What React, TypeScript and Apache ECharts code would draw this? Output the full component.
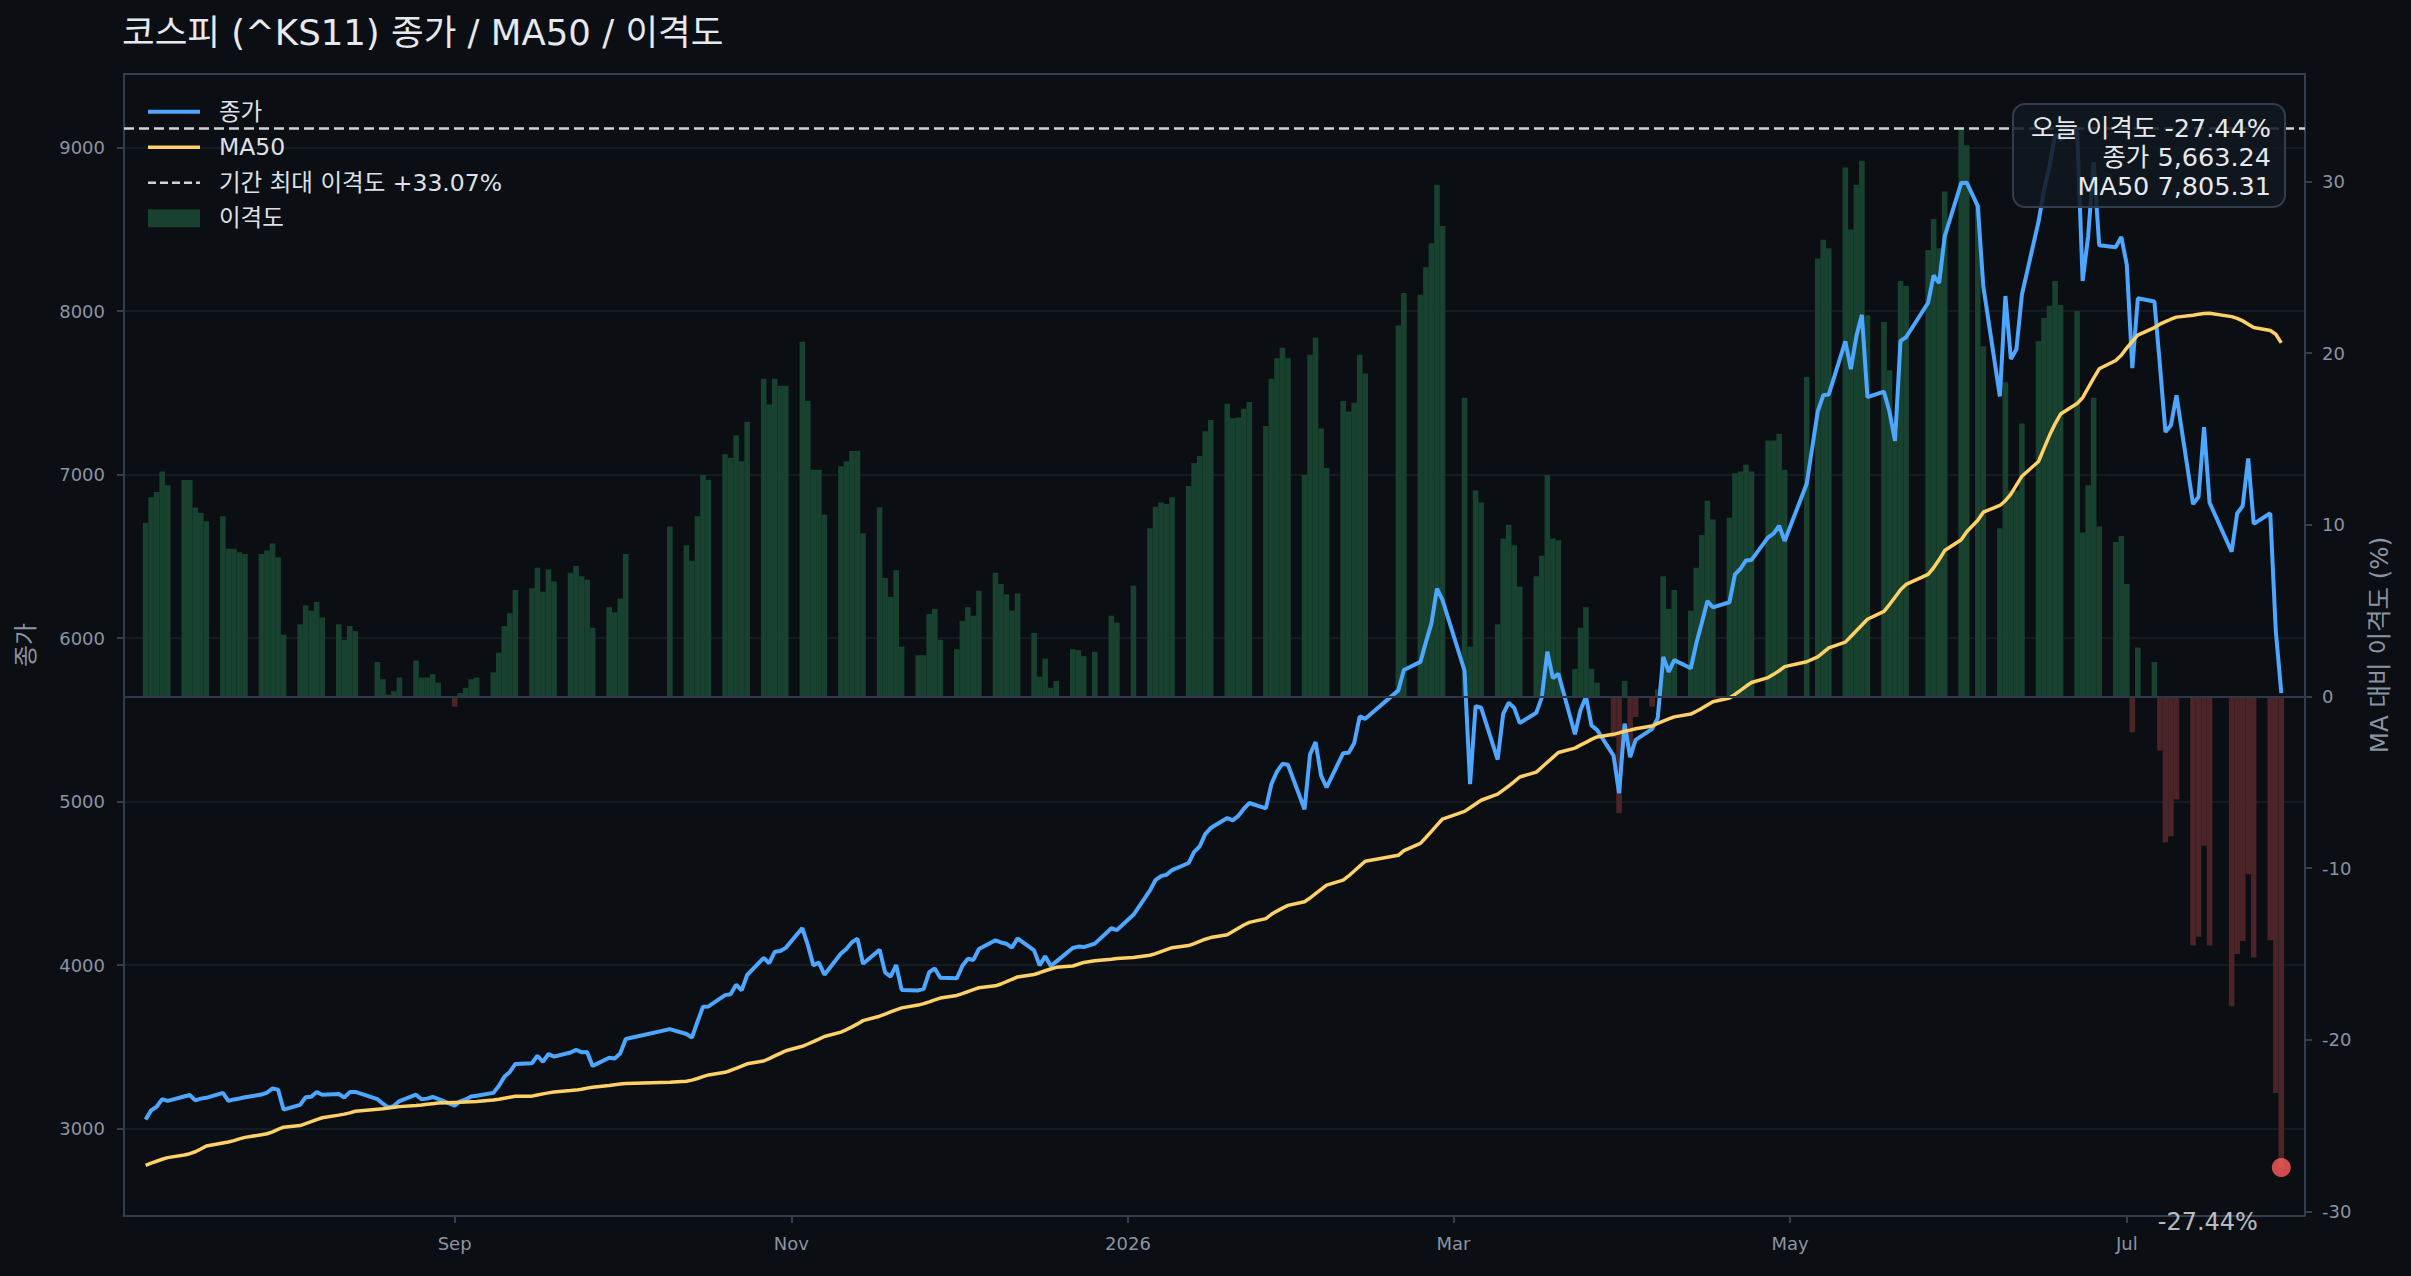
import React, { useEffect, useRef } from "react";
import * as echarts from "echarts";

// ---- data ----
const dates: string[] = [
  // 2025-07
  "2025-07-07","2025-07-08","2025-07-09","2025-07-10","2025-07-11","2025-07-14","2025-07-15","2025-07-16","2025-07-17","2025-07-18",
  "2025-07-21","2025-07-22","2025-07-23","2025-07-24","2025-07-25","2025-07-28","2025-07-29","2025-07-30","2025-07-31",
  // 2025-08
  "2025-08-01","2025-08-04","2025-08-05","2025-08-06","2025-08-07","2025-08-08","2025-08-11","2025-08-12","2025-08-13","2025-08-14",
  "2025-08-18","2025-08-19","2025-08-20","2025-08-21","2025-08-22","2025-08-25","2025-08-26","2025-08-27","2025-08-28","2025-08-29",
  // 2025-09
  "2025-09-01","2025-09-02","2025-09-03","2025-09-04","2025-09-05","2025-09-08","2025-09-09","2025-09-10","2025-09-11","2025-09-12",
  "2025-09-15","2025-09-16","2025-09-17","2025-09-18","2025-09-19","2025-09-22","2025-09-23","2025-09-24","2025-09-25","2025-09-26",
  "2025-09-29","2025-09-30",
  // 2025-10
  "2025-10-01","2025-10-02","2025-10-10","2025-10-13","2025-10-14","2025-10-15","2025-10-16","2025-10-17","2025-10-20","2025-10-21",
  "2025-10-22","2025-10-23","2025-10-24","2025-10-27","2025-10-28","2025-10-29","2025-10-30","2025-10-31",
  // 2025-11
  "2025-11-03","2025-11-04","2025-11-05","2025-11-06","2025-11-07","2025-11-10","2025-11-11","2025-11-12","2025-11-13","2025-11-14",
  "2025-11-17","2025-11-18","2025-11-19","2025-11-20","2025-11-21","2025-11-24","2025-11-25","2025-11-26","2025-11-27","2025-11-28",
  // 2025-12
  "2025-12-01","2025-12-02","2025-12-03","2025-12-04","2025-12-05","2025-12-08","2025-12-09","2025-12-10","2025-12-11","2025-12-12",
  "2025-12-15","2025-12-16","2025-12-17","2025-12-18","2025-12-19","2025-12-22","2025-12-23","2025-12-24","2025-12-26","2025-12-29",
  "2025-12-30",
  // 2026-01
  "2026-01-02","2026-01-05","2026-01-06","2026-01-07","2026-01-08","2026-01-09","2026-01-12","2026-01-13","2026-01-14","2026-01-15",
  "2026-01-16","2026-01-19","2026-01-20","2026-01-21","2026-01-22","2026-01-23","2026-01-26","2026-01-27","2026-01-28","2026-01-29",
  "2026-01-30",
  // 2026-02
  "2026-02-02","2026-02-03","2026-02-04","2026-02-05","2026-02-06","2026-02-09","2026-02-10","2026-02-11","2026-02-12","2026-02-13",
  "2026-02-19","2026-02-20","2026-02-23","2026-02-24","2026-02-25","2026-02-26","2026-02-27",
  // 2026-03
  "2026-03-03","2026-03-04","2026-03-05","2026-03-06","2026-03-09","2026-03-10","2026-03-11","2026-03-12","2026-03-13","2026-03-16",
  "2026-03-17","2026-03-18","2026-03-19","2026-03-20","2026-03-23","2026-03-24","2026-03-25","2026-03-26","2026-03-27","2026-03-30",
  "2026-03-31",
  // 2026-04
  "2026-04-01","2026-04-02","2026-04-03","2026-04-06","2026-04-07","2026-04-08","2026-04-09","2026-04-10","2026-04-13","2026-04-14",
  "2026-04-15","2026-04-16","2026-04-17","2026-04-20","2026-04-21","2026-04-22","2026-04-23","2026-04-24","2026-04-27","2026-04-28",
  "2026-04-29","2026-04-30",
  // 2026-05
  "2026-05-04","2026-05-06","2026-05-07","2026-05-08","2026-05-11","2026-05-12","2026-05-13","2026-05-14","2026-05-15","2026-05-18",
  "2026-05-19","2026-05-20","2026-05-21","2026-05-22","2026-05-26","2026-05-27","2026-05-28","2026-05-29",
  // 2026-06
  "2026-06-01","2026-06-02","2026-06-04","2026-06-05","2026-06-08","2026-06-09","2026-06-10","2026-06-11","2026-06-12","2026-06-15",
  "2026-06-16","2026-06-17","2026-06-18","2026-06-19","2026-06-22","2026-06-23","2026-06-24","2026-06-25","2026-06-26","2026-06-29",
  "2026-06-30",
  // 2026-07
  "2026-07-01","2026-07-02","2026-07-03","2026-07-06","2026-07-07","2026-07-08","2026-07-09","2026-07-10","2026-07-13","2026-07-14",
  "2026-07-15","2026-07-16","2026-07-20","2026-07-21","2026-07-22","2026-07-23","2026-07-24","2026-07-27","2026-07-28","2026-07-29",
];

const close: number[] = [
  3055,3111,3133,3180,3169, 3196,3205,3172,3183,3188, 3218,3169,3178,3184,3191, 3208,3220,3245,3238,
  3116, 3145,3191,3194,3223,3207, 3211,3190,3223,3224, 3180,3152,3128,3139,3168, 3207,3179,3183,3193,3181,
  3140,3166,3178,3196,3201, 3218,3260,3316,3346,3395, 3399,3445,3408,3456,3440, 3465,3481,3467,3468,3383, 3433,3428,
  3459,3548, 3608, 3578,3556,3653,3745,3747, 3816,3821,3880,3845,3939, 4044,4011,4081,4086,4105,
  4226,4122,3998,4015,3941, 4071,4099,4140,4161,4008, 4093,3955,3929,4000,3848, 3845,3855,3956,3979,3922,
  3919,3995,4038,4031,4098, 4151,4138,4130,4107,4163, 4089,3998,4053,3995,4021, 4104,4113,4110,4131, 4225,4214,
  4307, 4457,4520,4544,4552,4581, 4624,4692,4725,4801,4838, 4899,4885,4912,4956,4991, 4958,5107,5183,5231,5225,
  4953,5288,5364,5159,5086, 5296,5299,5357,5521,5506, 5680,5805, 5854,5975,6090,6303,6234,
  5800,5106,5583,5574, 5257,5536,5605,5573,5480, 5543,5637,5916,5755,5782, 5412,5559,5641,5466,5438, 5281,5051,
  5477,5272,5377, 5445,5510,5885,5793,5865, 5815,5968,6094,6227,6188, 6219,6390,6424,6475,6478, 6616,6639,6687,6594,
  6944, 7386,7485,7490, 7815,7645,7846,7977,7473, 7507,7384,7206,7818,7840, 8051,8218,8171,8456,
  8784,8785,8642,8151, 7478,8092,7706,7767,8101, 8546,8739,8886,9079,9050, 9103,8184,8458,8911,8403, 8391,8454,
  8284,7651,8078, 8059,7671,7260,7302,7485, 6819,6863,7290,6828, 6528,6762,6808,7099,6698, 6763,6043,5663.24,
];

const ma50: number[] = [
  2775,2788,2800,2812,2822, 2838,2846,2858,2875,2893, 2912,2918,2926,2937,2946, 2962,2968,2980,2995,
  3008, 3018,3030,3042,3055,3066, 3082,3088,3096,3106, 3118,3121,3125,3130,3134, 3141,3144,3148,3152,3156,
  3159,3160,3162,3164,3166, 3174,3179,3185,3191,3197, 3198,3205,3212,3218,3224, 3232,3235,3240,3247,3253, 3263,3268,
  3272,3276, 3283, 3289,3296,3306,3317,3328, 3344,3355,3368,3382,3396, 3413,3428,3444,3460,3476,
  3503,3517,3532,3547,3563, 3590,3605,3622,3640,3660, 3687,3700,3713,3726,3738, 3755,3764,3775,3787,3798,
  3814,3825,3838,3850,3861, 3873,3884,3898,3913,3927, 3942,3953,3965,3976,3986, 3994,4005,4016,4026, 4036,4040,
  4046, 4060,4070,4082,4094,4106, 4119,4131,4145,4158,4168, 4185,4205,4225,4245,4261, 4284,4310,4330,4348,4365,
  4387,4410,4437,4463,4489, 4519,4545,4575,4605,4635, 4671,4700, 4744,4780,4818,4856,4893,
  4940,4962,4985,5008, 5045,5070,5095,5122,5150, 5180,5210,5240,5270,5300, 5327,5345,5362,5380,5395, 5411,5420,
  5430,5437,5445, 5462,5478,5492,5505,5518, 5535,5552,5570,5590,5610, 5633,5655,5680,5705,5728, 5758,5778,5800,5825,
  5855, 5885,5912,5940, 5975,6010,6045,6080,6115, 6163,6205,6250,6295,6328, 6390,6430,6480,6535,
  6601,6650,6720,6770, 6811,6840,6880,6935,6990, 7080,7160,7240,7310,7370, 7435,7470,7530,7590,7647, 7698,7730,
  7775,7815,7853, 7899,7920,7935,7950,7963, 7975,7980,7985,7986, 7966,7955,7940,7920,7899, 7881,7858,7805.31,
];

// MA 대비 이격도 (%)
const gap: number[] = [
  10.1,11.6,11.9,13.1,12.3, 12.6,12.6,11.0,10.7,10.2, 10.5,8.6,8.6,8.4,8.3, 8.3,8.5,8.9,8.1,
  3.6, 4.2,5.3,5.0,5.5,4.6, 4.2,3.3,4.1,3.8, 2.0,1.0,0.1,0.3,1.1, 2.1,1.1,1.1,1.3,0.8,
  -0.6,0.2,0.5,1.0,1.1, 1.4,2.55,4.1,4.85,6.2, 6.3,7.5,6.1,7.4,6.7, 7.2,7.6,7.0,6.8,4.0, 5.2,4.9,
  5.7,8.3, 9.9, 8.8,7.9,10.5,12.9,12.6, 14.1,13.9,15.2,13.7,16.0, 18.5,17.0,18.5,18.1,18.1,
  20.65,17.2,13.2,13.2,10.6, 13.4,13.7,14.3,14.3,9.5, 11.0,6.9,5.8,7.35,2.9, 2.4,2.4,4.8,5.1,3.3,
  2.75,4.4,5.2,4.7,6.15, 7.2,6.55,5.95,5.0,6.0, 3.7,1.15,2.2,0.5,0.9, 2.75,2.7,2.35,2.6, 4.7,4.3,
  6.45, 9.8,11.05,11.3,11.2,11.6, 12.25,13.6,14.0,15.45,16.1, 17.05,16.2,16.25,16.75,17.15, 15.75,18.5,19.7,20.3,19.7,
  12.9,19.9,20.9,15.6,13.3, 17.2,16.6,17.1,19.9,18.8, 21.6,23.5, 23.4,25.0,26.4,29.8,27.4,
  17.4,2.9,12.0,11.3, 4.2,9.2,10.0,8.8,6.4, 7.0,8.2,12.9,9.2,9.1, 1.6,4.0,5.2,1.6,0.8, -2.4,-6.8,
  0.9,-3.0,-1.2, -0.6,0.4,7.0,5.1,6.2, 5.0,7.5,9.4,11.4,10.3, 10.4,13.0,13.1,13.5,13.1, 14.9,14.9,15.3,13.2,
  18.6, 25.5,26.6,26.1, 30.8,27.2,29.8,31.2,22.2, 21.8,19.0,15.3,24.2,23.9, 26.0,27.8,26.1,29.4,
  33.07,32.1,28.6,20.4, 9.8,18.3,12.0,12.0,15.9, 20.7,22.05,22.75,24.2,22.8, 22.45,9.55,12.3,17.4,9.9, 9.0,9.35,
  6.55,-2.1,2.85, 2.0,-3.15,-8.5,-8.15,-6.0, -14.5,-14.0,-8.7,-14.5, -18.05,-15.0,-14.25,-10.35,-15.2, -14.2,-23.1,-27.44,
];

const xTickDates = ["2025-09-01", "2025-11-01", "2026-01-01", "2026-03-01", "2026-05-01", "2026-07-01"];
const xTickLabels = ["Sep", "Nov", "2026", "Mar", "May", "Jul"];
const leftTicks = [3000, 4000, 5000, 6000, 7000, 8000, 9000];
const rightTicks = [-30, -20, -10, 0, 10, 20, 30];

// ---- styles ----
const BG = "#0b0e13";
const AXIS = "#333d4c";
const GRID = "#1a2029";
const ZERO = "#2f3846";
const TICK = "#8a94a3";
const TEXT = "#dde1e7";
const BLUE = "#4da6ff";
const YELLOW = "#ffd166";
const DASH = "#cfd4db";
const GREEN = "#18422f";
const RED = "#4a2427";
const FONT = "'DejaVu Sans', 'Noto Sans CJK KR', sans-serif";

const toTs = (s: string) => Date.parse(s + "T00:00:00Z");

export default function App() {
  const ref = useRef<HTMLDivElement>(null);

  useEffect(() => {
    document.body.style.margin = "0";
    document.body.style.background = BG;
    const chart = echarts.init(ref.current!, null, { renderer: "svg" });

    const t = dates.map(toTs);
    const last = dates.length - 1;
    const xMin = Date.UTC(2025, 6, 3, 2);
    const xMax = Date.UTC(2026, 7, 2, 7);
    const xTickTs = xTickDates.map(toTs);
    const periodMaxGap = Math.max(...gap);
    const fmt2 = (v: number) =>
      v.toLocaleString("en-US", { minimumFractionDigits: 2, maximumFractionDigits: 2 });
    const maxName = `기간 최대 이격도 +${periodMaxGap.toFixed(2)}%`;
    const lastGapText = `${gap[last].toFixed(2)}%`;

    const xLabel = (v: number) => {
      for (let i = 0; i < xTickTs.length; i++) {
        if (Math.abs(xTickTs[i] - v) < 43200000) return xTickLabels[i];
      }
      return "";
    };

    const hiddenSymbol = { opacity: 0 };

    const option: any = {
      animation: false,
      backgroundColor: BG,
      textStyle: { fontFamily: FONT },
      title: {
        text: "코스피 (^KS11) 종가 / MA50 / 이격도",
        left: 122,
        top: 15,
        padding: 0,
        textStyle: { color: "#e6e9ee", fontSize: 35.5, fontWeight: "normal", fontFamily: FONT },
      },
      legend: {
        orient: "vertical",
        left: 146,
        top: 100,
        padding: 0,
        itemWidth: 52,
        itemHeight: 18,
        itemGap: 12,
        selectedMode: false,
        textStyle: { color: TEXT, fontSize: 23.5, fontFamily: FONT, padding: [0, 0, 0, 14] },
        data: [
          { name: "종가", itemStyle: hiddenSymbol, lineStyle: { width: 4, color: BLUE } },
          { name: "MA50", itemStyle: hiddenSymbol, lineStyle: { width: 3.5, color: YELLOW } },
          { name: maxName, itemStyle: hiddenSymbol, lineStyle: { width: 2.5, color: DASH, type: [8, 4] } },
          { name: "이격도", icon: "rect" },
        ],
      },
      grid: {
        left: 124,
        right: 106,
        top: 74,
        bottom: 60,
        show: true,
        borderColor: AXIS,
        borderWidth: 2,
        backgroundColor: "transparent",
      },
      xAxis: {
        type: "value",
        min: xMin,
        max: xMax,
        scale: true,
        axisLine: { show: true, onZero: false, lineStyle: { color: AXIS, width: 2 } },
        axisTick: { show: true, customValues: xTickTs, length: 7, lineStyle: { color: AXIS, width: 2 } },
        axisLabel: {
          customValues: xTickTs,
          formatter: (v: number) => xLabel(v),
          color: TICK,
          fontSize: 18,
          margin: 18,
          fontFamily: FONT,
        },
        splitLine: { show: false },
      },
      yAxis: [
        {
          type: "value",
          position: "left",
          min: 2465,
          max: 9450,
          name: "종가",
          nameLocation: "middle",
          nameRotate: 90,
          nameGap: 86,
          nameTextStyle: { color: TICK, fontSize: 24, fontFamily: FONT },
          axisLine: { show: true, onZero: false, lineStyle: { color: AXIS, width: 2 } },
          axisTick: { show: true, customValues: leftTicks, length: 7, lineStyle: { color: AXIS, width: 2 } },
          axisLabel: {
            customValues: leftTicks,
            formatter: (v: number) => String(v),
            color: TICK,
            fontSize: 18,
            margin: 19,
            fontFamily: FONT,
          },
          splitLine: { show: true, lineStyle: { color: GRID, width: 1.5 } },
        },
        {
          type: "value",
          position: "right",
          min: -30.26,
          max: 36.25,
          name: "MA 대비 이격도 (%)",
          nameLocation: "middle",
          nameRotate: 90,
          nameGap: 62,
          nameTextStyle: { color: TICK, fontSize: 24.5, fontFamily: FONT },
          axisLine: { show: true, onZero: false, lineStyle: { color: AXIS, width: 2 } },
          axisTick: { show: true, customValues: rightTicks, length: 7, lineStyle: { color: AXIS, width: 2 } },
          axisLabel: {
            customValues: rightTicks,
            formatter: (v: number) => String(v),
            color: TICK,
            fontSize: 18,
            margin: 17,
            fontFamily: FONT,
          },
          splitLine: { show: false },
        },
      ],
      series: [
        {
          name: "이격도",
          type: "bar",
          yAxisIndex: 1,
          barWidth: 5.6,
          itemStyle: { color: GREEN },
          z: 1,
          data: t.map((x, i) => ({
            value: [x, gap[i]],
            itemStyle: { color: gap[i] >= 0 ? GREEN : RED },
          })),
          markLine: {
            silent: true,
            symbol: "none",
            label: { show: false },
            lineStyle: { color: ZERO, width: 2, type: "solid" },
            data: [{ yAxis: 0 }],
          },
        },
        {
          name: maxName,
          type: "line",
          yAxisIndex: 1,
          symbol: "none",
          z: 2,
          lineStyle: { color: DASH, width: 2.5, type: [10, 5] },
          itemStyle: { color: DASH },
          data: [
            [xMin, periodMaxGap],
            [xMax, periodMaxGap],
          ],
        },
        {
          name: "종가",
          type: "line",
          yAxisIndex: 0,
          symbol: "none",
          z: 3,
          lineStyle: { color: BLUE, width: 4 },
          itemStyle: { color: BLUE },
          data: t.map((x, i) => [x, close[i]]),
        },
        {
          name: "MA50",
          type: "line",
          yAxisIndex: 0,
          symbol: "none",
          z: 4,
          lineStyle: { color: YELLOW, width: 3.5 },
          itemStyle: { color: YELLOW },
          data: t.map((x, i) => [x, ma50[i]]),
        },
        {
          name: "오늘",
          type: "scatter",
          yAxisIndex: 1,
          symbolSize: 19,
          z: 6,
          itemStyle: { color: "#ff5c5c" },
          label: {
            show: true,
            formatter: lastGapText,
            position: [-64, 64],
            align: "center",
            verticalAlign: "middle",
            color: "#e6e9ee",
            fontSize: 24,
            fontFamily: FONT,
          },
          data: [[t[last], gap[last]]],
        },
      ],
      graphic: [
        {
          type: "rect",
          z: 100,
          shape: { x: 2013, y: 104, width: 272, height: 103, r: 12 },
          style: { fill: "rgba(17,23,33,0.86)", stroke: "#323d4d", lineWidth: 2 },
        },
        {
          type: "text",
          z: 101,
          x: 2271,
          y: 113,
          style: {
            text: [
              `오늘 이격도 ${lastGapText}`,
              `종가 ${fmt2(close[last])}`,
              `MA50 ${fmt2(ma50[last])}`,
            ].join("\n"),
            align: "right",
            verticalAlign: "top",
            fill: "#e6e9ee",
            fontSize: 25.5,
            fontFamily: FONT,
            lineHeight: 29,
          },
        },
      ],
    };

    chart.setOption(option);
    return () => chart.dispose();
  }, []);

  return (
    <div
      ref={ref}
      style={{ position: "absolute", left: 0, top: 0, width: 2411, height: 1276, background: BG }}
    />
  );
}
